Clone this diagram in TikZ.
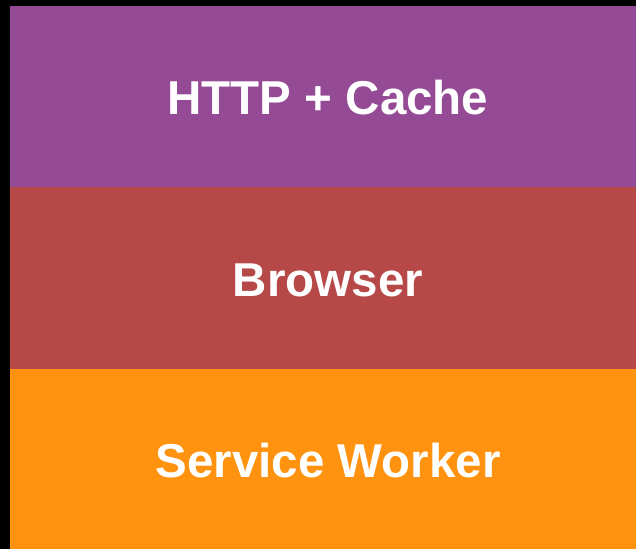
\documentclass[tikz,border=0pt]{standalone}
\usepackage{fontspec}
\setmainfont{Liberation Sans}
\definecolor{bgblack}{HTML}{000000}
\definecolor{lpurple}{HTML}{954A95}
\definecolor{lred}{HTML}{B64848}
\definecolor{lorange}{HTML}{FF930F}
\begin{document}
\begin{tikzpicture}[x=1pt,y=-1pt,
  layer/.style={draw=none,inner sep=0pt,outer sep=0pt,minimum width=626pt,minimum height=#1pt,anchor=north west},
  label/.style={text=white,font=\fontsize{47.5pt}{50pt}\selectfont\bfseries,inner sep=0pt,text height=34pt,text depth=0pt,anchor=center}]
\fill[bgblack] (0,0) rectangle (636,549);
\useasboundingbox (0,0) rectangle (636,549);
\node[layer=181,fill=lpurple] (http) at (10,6) {};
\node[layer=182,fill=lred] (browser) at (10,187) {};
\node[layer=180,fill=lorange] (sw) at (10,369) {};
\node[label] (t1) at (328,97) {HTTP + Cache};
\node[label] (t2) at (328,279) {Browser};
\node[label] (t3) at (328,460) {Service Worker};
\end{tikzpicture}
\end{document}
